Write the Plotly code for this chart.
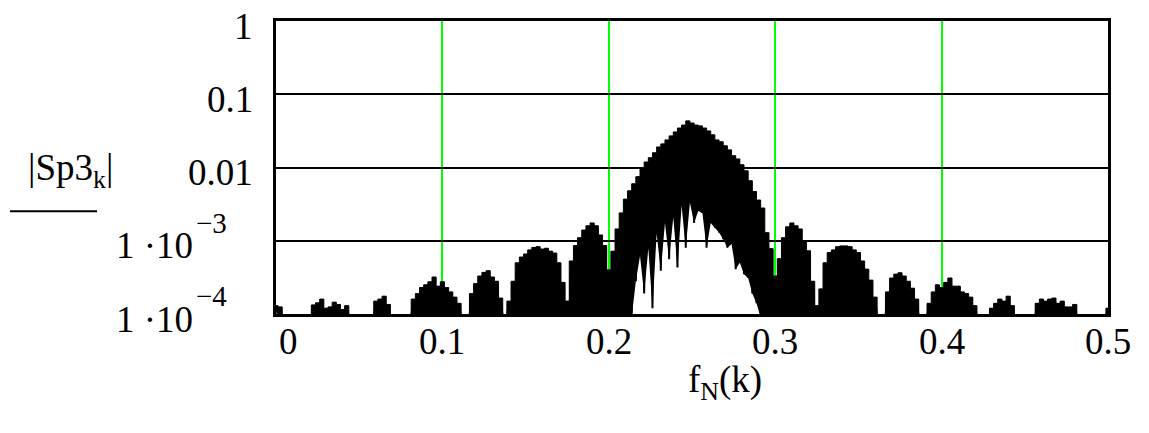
import numpy as np
import plotly.graph_objects as go

# Normalised frequency f_N(k) = k / N, one sample every 1/400
k = np.arange(201)
f_N = k / 400.0

B = 9e-5  # level just under the lower limit of the magnitude axis

# |Sp3_k| : local maxima of the spectrum at each frequency sample
sp3_peak = [
    1.3e-4, 1.25e-4, B, B, B, B, B, B, B, 1.33e-4,            # 0.000 - 0.0225
    1.42e-4, 1.6e-4, 1.2e-4, 1.25e-4, 1.45e-4, 1.35e-4, 1.15e-4, 1.3e-4, B, B,   # 0.025 - 0.0475
    B, B, B, B, 1.5e-4, 1.6e-4, 1.75e-4, 1.35e-4, B, B,       # 0.050 - 0.0725
    B, B, B, 1.6e-4, 1.9e-4, 2.3e-4, 2.5e-4, 2.75e-4, 3.2e-4, 2.4e-4,   # 0.075 - 0.0975
    2.75e-4, 2.3e-4, 2.0e-4, 1.7e-4, 1.4e-4, B, B, 1.9e-4, 2.6e-4, 3.3e-4,   # 0.100 - 0.1225
    3.7e-4, 3.9e-4, 3.2e-4, 2.8e-4, 1.65e-4, B, 1.5e-4, 2.8e-4, 5.0e-4, 6.0e-4,   # 0.125 - 0.1475
    6.6e-4, 7.5e-4, 8.1e-4, 8.3e-4, 7.7e-4, 7.9e-4, 7.2e-4, 6.8e-4, 5.0e-4, 2.7e-4,   # 0.150 - 0.1725
    1.5e-4, 5.3e-4, 8.6e-4, 1.1e-3, 1.4e-3, 1.6e-3, 1.75e-3, 1.6e-3, 1.2e-3, 8.6e-4,   # 0.175 - 0.1975
    4.0e-4, 7.2e-4, 1.45e-3, 2.4e-3, 3.7e-3, 4.8e-3, 6.0e-3, 7.5e-3, 9.9e-3, 0.0119,   # 0.200 - 0.2225
    0.0136, 0.0159, 0.0191, 0.021, 0.0238, 0.027, 0.0306, 0.0346, 0.038, 0.0433,   # 0.225 - 0.2475
    0.0405, 0.038, 0.037, 0.0346, 0.0316, 0.0279, 0.0238, 0.0224, 0.0198, 0.0174,   # 0.250 - 0.2725
    0.0145, 0.0131, 0.0109, 9.0e-3, 6.6e-3, 4.7e-3, 3.6e-3, 2.8e-3, 1.29e-3, 7.8e-4,   # 0.275 - 0.2975
    3.3e-4, 5.7e-4, 1.1e-3, 1.55e-3, 1.75e-3, 1.6e-3, 1.45e-3, 1.0e-3, 7.3e-4, 2.8e-4,   # 0.300 - 0.3225
    1.3e-4, 2.2e-4, 5.0e-4, 6.9e-4, 7.5e-4, 8.3e-4, 8.5e-4, 8.5e-4, 8.3e-4, 7.5e-4,   # 0.325 - 0.3475
    6.9e-4, 5.3e-4, 4.1e-4, 2.9e-4, 1.7e-4, B, B, 2.0e-4, 3.1e-4, 3.5e-4,   # 0.350 - 0.3725
    3.65e-4, 3.3e-4, 2.8e-4, 2.25e-4, 1.6e-4, B, B, 1.4e-4, 2.0e-4, 2.5e-4,   # 0.375 - 0.3975
    2.3e-4, 2.7e-4, 3.1e-4, 2.4e-4, 2.4e-4, 2.0e-4, 1.9e-4, 1.7e-4, 1.3e-4, B,   # 0.400 - 0.4225
    B, B, 1.2e-4, 1.4e-4, 1.6e-4, 1.5e-4, 1.75e-4, 1.3e-4, B, B,   # 0.425 - 0.4475
    B, B, B, 1.4e-4, 1.6e-4, 1.5e-4, 1.6e-4, 1.65e-4, 1.4e-4, 1.5e-4,   # 0.450 - 0.4725
    1.25e-4, 1.25e-4, 1.35e-4, B, B, B, B, B, B, B,   # 0.475 - 0.4975
    1.2e-4,   # 0.500
]

# |Sp3_k| : local minima between neighbouring samples
sp3_trough = [B] * 86 + [
    2.8e-4, 6.2e-4, 1.9e-4, 7.9e-4, 1.2e-4, 1.25e-3, 3.9e-4, 1.75e-3, 5.6e-4, 2.1e-3,   # 0.215 - 0.2375
    4.3e-4, 3.0e-3, 8.0e-4, 3.3e-3, 1.75e-3, 2.55e-3, 2.4e-3, 8.0e-4, 1.75e-3, 1.5e-3,   # 0.240 - 0.2625
    1.3e-3, 1.05e-3, 8.0e-4, 9.0e-4, 4.1e-4, 5.0e-4, 3.5e-4, 3.1e-4, 1.9e-4, 1.4e-4,   # 0.265 - 0.2875
] + [B] * 85

x_tick_vals = [0, 0.1, 0.2, 0.3, 0.4, 0.5]
x_tick_text = ["0", "0.1", "0.2", "0.3", "0.4", "0.5"]
y_tick_vals = [1, 0.1, 0.01, 1e-3, 1e-4]
y_tick_mant = ["1", "0.1", "0.01", "1 ·10", "1 ·10"]
y_tick_exp = ["", "", "", "−3", "−4"]

FONT = "Liberation Serif, Times New Roman, serif"
FS = 37
FS_EXP = 29

half_step = (f_N[1] - f_N[0]) / 2
f_trough = f_N + half_step

fig = go.Figure()
# lower envelope (minima), invisible edge used as the fill base
fig.add_trace(go.Scatter(
    x=f_trough, y=sp3_trough, mode="lines",
    line=dict(color="black", width=0),
    hoverinfo="skip", showlegend=False,
))
# upper envelope (maxima), held over each frequency bin and filled down to the minima
fig.add_trace(go.Scatter(
    x=f_N, y=sp3_peak, mode="lines", fill="tonexty",
    fillcolor="black", line=dict(color="black", width=1, shape="hvh"),
    hoverinfo="skip", showlegend=False,
))
# the spectrum itself, sweeping between maxima and minima
xs = np.empty(2 * len(f_N))
ys = np.empty(2 * len(f_N))
xs[0::2] = f_N
xs[1::2] = f_trough
ys[0::2] = sp3_peak
ys[1::2] = sp3_trough
fig.add_trace(go.Scatter(
    x=xs, y=ys, mode="lines",
    line=dict(color="black", width=2),
    hoverinfo="skip", showlegend=False,
))

fig.update_xaxes(
    range=[0, 0.5],
    tickvals=x_tick_vals, showticklabels=False,
    showgrid=True, gridcolor="#00ff00", gridwidth=1.5,
    showline=True, linecolor="black", linewidth=3, mirror=True,
    ticks="", zeroline=False,
)
fig.update_yaxes(
    type="log", range=[-4, 0],
    tickvals=y_tick_vals, showticklabels=False,
    showgrid=True, gridcolor="black", gridwidth=2,
    showline=True, linecolor="black", linewidth=3, mirror=True,
    ticks="", zeroline=False,
)

annotations = []
# magnitude axis labels (mantissa and raised exponent)
for v, m, e in zip(y_tick_vals, y_tick_mant, y_tick_exp):
    if e:
        annotations.append(dict(
            x=0, xref="paper", y=np.log10(v), yref="y",
            text=m, showarrow=False, xanchor="right", yanchor="middle",
            xshift=-81, yshift=-5,
            font=dict(family=FONT, size=FS, color="black"),
        ))
        annotations.append(dict(
            x=0, xref="paper", y=np.log10(v), yref="y",
            text=e, showarrow=False, xanchor="left", yanchor="middle",
            xshift=-82, yshift=18,
            font=dict(family=FONT, size=FS_EXP, color="black"),
        ))
    else:
        annotations.append(dict(
            x=0, xref="paper", y=np.log10(v), yref="y",
            text=m, showarrow=False, xanchor="right", yanchor="middle",
            xshift=-21, yshift=-5,
            font=dict(family=FONT, size=FS, color="black"),
        ))

# frequency axis labels
for i, (v, t) in enumerate(zip(x_tick_vals, x_tick_text)):
    annotations.append(dict(
        x=v, xref="x", y=0, yref="paper",
        text=t, showarrow=False,
        xanchor="left" if i == 0 else "center", yanchor="top",
        xshift=1 if i == 0 else 0, yshift=-5,
        font=dict(family=FONT, size=FS, color="black"),
    ))

# axis titles
annotations.append(dict(
    x=0.54, xref="paper", y=-0.235, yref="paper",
    text="f<sub>N</sub>(k)", showarrow=False,
    xanchor="center", yanchor="middle",
    font=dict(family=FONT, size=FS, color="black"),
))
annotations.append(dict(
    x=-0.2464, xref="paper", y=0.49, yref="paper",
    text="|Sp3<sub>k</sub>|", showarrow=False,
    xanchor="center", yanchor="middle",
    font=dict(family=FONT, size=FS, color="black"),
))

fig.update_layout(
    width=1149, height=433,
    margin=dict(l=276, r=41, t=21, b=119),
    paper_bgcolor="white", plot_bgcolor="white",
    annotations=annotations,
    shapes=[dict(
        type="line", xref="paper", yref="paper",
        x0=-0.3197, x1=-0.2151, y0=0.351, y1=0.351,
        line=dict(color="black", width=2),
    )],
)

fig.write_html("out.html")
